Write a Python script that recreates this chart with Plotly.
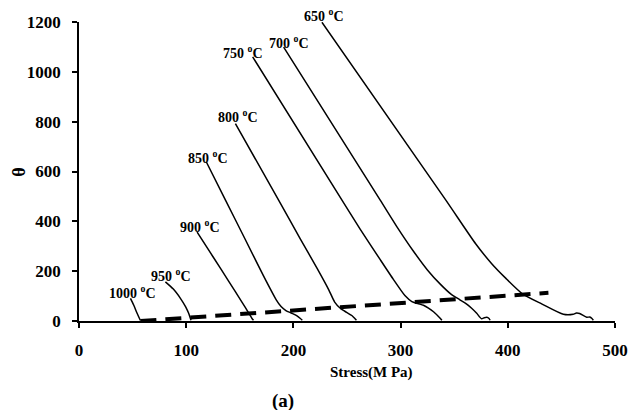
import plotly.graph_objects as go

# ---- data ----
temps = ["1000", "950", "900", "850", "800", "750", "700", "650"]

x_1000 = [48, 51, 54.2, 56.2, 57.3]
y_1000 = [91, 64, 31, 12, 2]

x_950 = [80.6, 88, 94.6, 99.5, 102.3, 104.5]
y_950 = [157, 128, 91, 57, 31, 3]

x_900 = [110.2, 125, 140, 152, 158.2, 161.4, 162.8]
y_900 = [357, 258, 157, 76, 33, 10, 3]

x_850 = [118.8, 137, 155, 172, 184, 188.5, 193, 198, 203, 206.5, 208.3]
y_850 = [638, 482, 328, 182, 85, 58, 42, 32, 22, 10, 3]

x_800 = [145.9, 186.2, 206.4, 222, 233, 238.5, 244, 249.5, 254.5, 257.5, 258.8]
y_800 = [792, 485, 330, 212, 125, 76, 50, 35, 22, 9, 3]

x_750 = [162, 245.3, 262.4, 281, 293.4, 304, 310.5, 316, 321.3, 326, 330.7, 336.9, 338.5]
y_750 = [1060, 485, 368, 246, 166, 102, 78, 70, 63, 52, 37, 11, 3]

x_700 = [190.9, 281, 296.6, 312, 325, 337, 347, 355, 361, 366, 371, 375.5, 378, 380.4, 382.5, 383.5]
y_700 = [1099, 485, 378, 280, 205, 148, 108, 86, 70, 52, 31, 9, 13, 15, 10, 3]

x_650 = [226.6, 342.2, 370, 385, 398, 414, 432, 451.8, 461, 464, 467, 473.6, 476.5, 478.5, 479.8]
y_650 = [1199, 485, 310, 230, 172, 108, 68, 27, 27, 32, 30, 15, 16, 10, 3]

curves_x = [x_1000, x_950, x_900, x_850, x_800, x_750, x_700, x_650]
curves_y = [y_1000, y_950, y_900, y_850, y_800, y_750, y_700, y_650]

# label positions (data coords) for temperature labels
label_x = [49.6, 85.9, 112.5, 120.2, 148.2, 153.3, 195.5, 229]
label_y = [116, 184, 382, 658, 824, 1078, 1119, 1227]

dash_x = [57.3, 437.9]
dash_y = [0, 113]

x_range = [0, 500]
y_range = [0, 1200]
x_ticks = [0, 100, 200, 300, 400, 500]
y_ticks = [0, 200, 400, 600, 800, 1000, 1200]

FONT = "Liberation Serif"

fig = go.Figure()
for cx, cy in zip(curves_x, curves_y):
    fig.add_trace(go.Scatter(x=cx, y=cy, mode="lines",
                             line=dict(color="black", width=1.5, shape="spline", smoothing=0.6),
                             showlegend=False, hoverinfo="skip"))

fig.add_trace(go.Scatter(x=dash_x, y=dash_y, mode="lines",
                         line=dict(color="black", width=4, dash="16px,9px"),
                         showlegend=False, hoverinfo="skip"))

W, H = 639, 410
L, R, T, B = 78.5, 24, 21.5, 89
pw, ph = W - L - R, H - T - B

def px2paper(px, py):
    return (px - L) / pw, (H - B - py) / ph

def data2paper(dx, dy):
    return ((dx - x_range[0]) / (x_range[1] - x_range[0]),
            (dy - y_range[0]) / (y_range[1] - y_range[0]))

annotations = []
for t, lx, ly in zip(temps, label_x, label_y):
    px_, py_ = data2paper(lx, ly)
    annotations.append(dict(x=px_, y=py_, xref="paper", yref="paper",
                            text=f"<b>{t} <sup>o</sup>C</b>",
                            showarrow=False, xanchor="center", yanchor="middle",
                            font=dict(family=FONT, size=14, color="black")))

ax, ay = px2paper(370.8, 372.5)
annotations.append(dict(x=ax, y=ay, xref="paper", yref="paper", text="<b>Stress(M Pa)</b>",
                        showarrow=False, xanchor="center", yanchor="middle",
                        font=dict(family=FONT, size=15, color="black")))
tx, ty = px2paper(18.3, 171.7)
annotations.append(dict(x=tx, y=ty, xref="paper", yref="paper", text="<b>θ</b>", textangle=-90,
                        showarrow=False, xanchor="center", yanchor="middle",
                        font=dict(family=FONT, size=18, color="black")))
bx, by = px2paper(282.5, 401)
annotations.append(dict(x=bx, y=by, xref="paper", yref="paper", text="<b>(a)</b>",
                        showarrow=False, xanchor="center", yanchor="middle",
                        font=dict(family=FONT, size=19, color="black")))

axis_common = dict(showgrid=False, zeroline=False,
                   showline=True, linecolor="black", linewidth=1.5,
                   ticks="outside", ticklen=5, tickwidth=1.5, tickcolor="black",
                   ticklabelstandoff=8,
                   tickfont=dict(family=FONT, size=17, color="black", weight="bold"))

fig.update_layout(
    width=W, height=H,
    margin=dict(l=L, r=R, t=T, b=B, pad=0),
    paper_bgcolor="white", plot_bgcolor="white",
    annotations=annotations,
    xaxis=dict(range=x_range, tickvals=x_ticks, **axis_common),
    yaxis=dict(range=y_range, tickvals=y_ticks, **axis_common),
)

fig.write_html("out.html")
